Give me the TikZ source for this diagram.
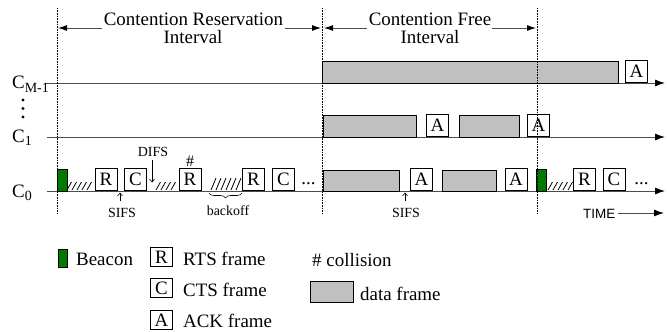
\documentclass[tikz,border=0pt]{standalone}
\usepackage{fontspec}
\setmainfont{Liberation Serif}
\newfontfamily\helvfont{Liberation Sans}
\usetikzlibrary{arrows.meta,decorations.pathreplacing}
\definecolor{bgreen}{RGB}{0,122,0}
\definecolor{fgray}{RGB}{192,192,192}
\newcommand\fbig{\fontsize{19}{19}\selectfont}
\newcommand\fsm{\fontsize{14}{14}\selectfont}
\begin{document}
\begin{tikzpicture}[x=1bp,y=-1bp,
  axis/.style={draw=black!70, line width=0.9bp, -{Latex[length=10bp,width=7bp,color=black]}},
  hdr/.style={draw=black!70, line width=0.9bp, -{Latex[length=9bp,width=6bp,color=black]}},
  fbox/.style={draw, fill=white, line width=0.8bp, minimum width=22bp, minimum height=22bp, inner sep=0pt, font=\fbig},
  lbox/.style={draw, fill=white, line width=0.8bp, minimum width=22bp, minimum height=19bp, inner sep=0pt, font=\fbig},
  dframe/.style={draw, fill=fgray, line width=0.8bp},
  beacon/.style={draw, fill=bgreen, line width=0.8bp},
  hatch/.style={line width=0.8bp},
  divider/.style={line width=0.6bp, dash pattern=on 0.8bp off 0.8bp},
  txt/.style={inner sep=0pt, font=\fbig},
  small/.style={inner sep=0pt, font=\fsm},
  thinarrow/.style={line width=0.6bp, -{Straight Barb[length=3bp,width=5bp]}}
]
\useasboundingbox (0,0) rectangle (667,331);

% header
\node[txt, anchor=base] (crtitle) at (193.5,25) {Contention Reservation};
\node[txt, anchor=base] (crint) at (193,43) {Interval};
\node[txt, anchor=base] (cftitle) at (430,25) {Contention Free};
\node[txt, anchor=base] (cfint) at (430,43) {Interval};
\coordinate (h1) at (102,28); \coordinate (h1e) at (58,28);
\coordinate (h2) at (285,28); \coordinate (h2e) at (321,28);
\coordinate (h3) at (367,28); \coordinate (h3e) at (324,28);
\coordinate (h4) at (492,28); \coordinate (h4e) at (536,28);
\draw[hdr] (h1) -- (h1e);
\draw[hdr] (h2) -- (h2e);
\draw[hdr] (h3) -- (h3e);
\draw[hdr] (h4) -- (h4e);

% channel axes
\coordinate (m0) at (45,83); \coordinate (m1) at (665,83);
\coordinate (a0) at (47,137); \coordinate (a1) at (665,137);
\coordinate (z0) at (47,191); \coordinate (z1) at (665,191);
\draw[axis] (m0) -- (m1);
\draw[axis] (a0) -- (a1);
\draw[axis] (z0) -- (z1);

% channel labels
\node[txt, anchor=base west] (lm) at (12,88) {C\raisebox{-4bp}{\fsm M-1}};
\node[txt, anchor=base west] (l1) at (12,142) {C\raisebox{-3bp}{\fsm 1}};
\node[txt, anchor=base west] (l0) at (12,197) {C\raisebox{-3bp}{\fsm 0}};
\fill (23,100) circle (1.6bp) (23,108.5) circle (1.6bp) (23,117) circle (1.6bp);

% C_{M-1} row
\draw[dframe] (322,61) rectangle (618,83);
\node[fbox, anchor=south] (am1) at (636.5,83) {A};

% C_1 row
\draw[dframe] (323,115) rectangle (416,137);
\node[fbox, anchor=south] (a11) at (437.5,137) {A};
\draw[dframe] (459,115) rectangle (519,137);
\node[fbox, anchor=south] (a12) at (538.5,137) {A};

% C_0 row
\draw[beacon] (57,169) rectangle (67,191);
\foreach \x in {67,72,77,82,87} \draw[hatch] (\x,190) -- (\x+4.5,182);
\node[fbox, anchor=south] (r1) at (106,191) {R};
\node[fbox, anchor=south] (c1) at (135.5,191) {C};
\foreach \x in {156,161,166,171} \draw[hatch] (\x,190) -- (\x+4.5,182);
\node[fbox, anchor=south] (r2) at (190,191) {R};
\node[anchor=base, inner sep=0pt, font=\fontsize{16}{16}\selectfont] (hash) at (190,166) {\#};
\foreach \x in {211,216,221,226,231,236} \draw[hatch] (\x,190) -- (\x+5,178);
\node[fbox, anchor=south] (r3) at (253.5,191) {R};
\node[fbox, anchor=south] (c2) at (283.5,191) {C};
\node[txt, anchor=base] (dots1) at (308.5,184) {...};
\draw[dframe] (323,170) rectangle (399,191);
\node[fbox, anchor=south] (a01) at (421.5,191) {A};
\draw[dframe] (442,170) rectangle (496,191);
\node[fbox, anchor=south] (a02) at (516,191) {A};
\draw[beacon] (536,169) rectangle (546,191);
\foreach \x in {548,553,558,563,568} \draw[hatch] (\x,190) -- (\x+4.5,182);
\node[fbox, anchor=south] (r4) at (584.5,191) {R};
\node[fbox, anchor=south] (c3) at (614,191) {C};
\node[txt, anchor=base] (dots2) at (641.5,184) {...};

% annotations
\node[small, anchor=base] (difs) at (153,156) {DIFS};
\coordinate (difsT) at (152,160); \coordinate (difsB) at (152,182.5);
\draw[thinarrow] (difsT) -- (difsB);
\node[small, anchor=base] (sifs1) at (122,217) {SIFS};
\coordinate (s1b) at (120,201); \coordinate (s1t) at (120,192.5);
\draw[thinarrow] (s1b) -- (s1t);
\node[small, anchor=base] (sifs2) at (406,217) {SIFS};
\coordinate (s2b) at (405,201); \coordinate (s2t) at (405,192.5);
\draw[thinarrow] (s2b) -- (s2t);
\draw[line width=0.6bp, decorate, decoration={brace, amplitude=5bp, mirror}] (209,193) -- (242,193);
\node[small, anchor=base] (backoff) at (228,215) {backoff};

% time
\node[inner sep=0pt, anchor=base west, font=\helvfont\fontsize{13.5}{13.5}\selectfont] (time) at (583,218) {TIME};
\coordinate (t0) at (618,213); \coordinate (t1) at (664,213);
\draw[axis] (t0) -- (t1);

% dividers
\draw[divider] (57,8) -- (57,213);
\draw[divider] (322,8) -- (322,213);
\draw[divider] (537,8) -- (537,213);

% legend
\draw[beacon] (58,249) rectangle (67,267);
\node[txt, anchor=base west] (lbeacon) at (76,265) {Beacon};
\node[lbox, anchor=south west] (lr) at (150,267) {R};
\node[txt, anchor=base west] (lrts) at (183,265) {RTS frame};
\node[lbox, anchor=south west] (lc) at (150,298) {C};
\node[txt, anchor=base west] (lcts) at (183,296) {CTS frame};
\node[lbox, anchor=south west] (la) at (150,330) {A};
\node[txt, anchor=base west] (lack) at (183,327) {ACK frame};
\node[txt, anchor=base west] (lcoll) at (312,266) {\# collision};
\draw[dframe] (310,281) rectangle (353,302);
\node[txt, anchor=base west] (ldata) at (360,300) {data frame};
\end{tikzpicture}
\end{document}
